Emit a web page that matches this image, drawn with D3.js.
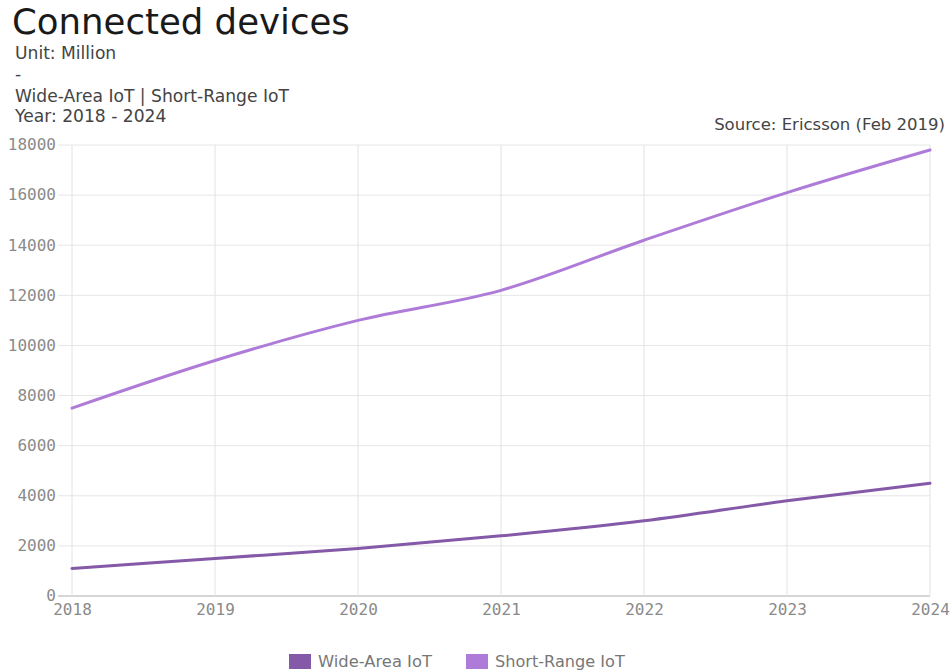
<!DOCTYPE html>
<html><head><meta charset="utf-8">
<script src="https://cdn.jsdelivr.net/npm/d3@7"></script>
<style>
body{margin:0;background:#fff;}
svg{display:block;}
</style></head>
<body>
<svg id="chart" width="952" height="671"></svg>
<script>
const years = [2018, 2019, 2020, 2021, 2022, 2023, 2024];
const wideArea = [1100, 1500, 1900, 2400, 3000, 3800, 4500];
const shortRange = [7500, 9400, 11000, 12200, 14200, 16100, 17800];
const yTicks = [0, 2000, 4000, 6000, 8000, 10000, 12000, 14000, 16000, 18000];
const seriesNames = ["Wide-Area IoT", "Short-Range IoT"];
const seriesColors = ["#8459a8", "#ae7cd8"];

const svg = d3.select("#chart");
const sans = "'DejaVu Sans', Verdana, sans-serif";
const mono = "'DejaVu Sans Mono', 'Liberation Mono', monospace";

function fit(sel, target) {
  const fs = parseFloat(sel.attr("font-size"));
  const w = sel.node().getComputedTextLength();
  const nfs = fs * target / w;
  sel.attr("font-size", nfs);
  return nfs;
}

const x = d3.scaleLinear().domain([2018, 2024]).range([72, 930]);
const y = d3.scaleLinear().domain([0, 18000]).range([596, 145]);

// titles
const title = svg.append("text").attr("x", 12).attr("y", 34).attr("font-family", sans)
  .attr("font-size", 32).attr("fill", "#1a1a1a").text("Connected devices");
fit(title, 338);
const subs = ["Unit: Million", "-", "Wide-Area IoT | Short-Range IoT", "Year: 2018 - 2024"];
const subY = [59, 80, 102, 122];
const subSel = subs.map((s, i) => svg.append("text").attr("x", 15).attr("y", subY[i])
  .attr("font-family", sans).attr("font-size", 14).attr("fill", "#444").text(s));
const sfs = fit(subSel[2], 274);
subSel.forEach(s => s.attr("font-size", sfs));
const src = svg.append("text").attr("x", 945).attr("y", 130).attr("text-anchor", "end")
  .attr("font-family", sans).attr("font-size", 14).attr("fill", "#444").text("Source: Ericsson (Feb 2019)");
fit(src, 231);

// grid
const g = svg.append("g");
g.selectAll(".hg").data(yTicks).join("line")
  .attr("x1", 58).attr("x2", 930).attr("y1", d => y(d)).attr("y2", d => y(d))
  .attr("stroke", d => d === 0 ? "#c8c8c8" : "#e6e6e6").attr("stroke-width", d => d === 0 ? 1.5 : 1);
g.selectAll(".vg").data(years).join("line")
  .attr("x1", d => x(d)).attr("x2", d => x(d)).attr("y1", 145).attr("y2", 596)
  .attr("stroke", "#e2e2e2").attr("stroke-width", 1);

// axes labels
const yAxis = d3.axisLeft(y).tickValues(yTicks).tickSize(0).tickPadding(0).tickFormat(d3.format("d"));
const ya = svg.append("g").attr("transform", "translate(56,0)").call(yAxis);
ya.select(".domain").remove();
ya.selectAll("text").attr("font-family", mono).attr("font-size", 16).attr("fill", "#8a8a8a").attr("dy", "0.3em");

const xAxis = d3.axisBottom(x).tickValues(years).tickSize(0).tickPadding(0).tickFormat(d3.format("d"));
const xa = svg.append("g").attr("transform", "translate(0,604)").call(xAxis);
xa.select(".domain").remove();
xa.selectAll("text").attr("font-family", mono).attr("font-size", 16).attr("fill", "#8a8a8a");

// lines
const line = d3.line().x((d, i) => x(years[i])).y(d => y(d)).curve(d3.curveMonotoneX);
[wideArea, shortRange].forEach((s, i) => {
  svg.append("path").datum(s).attr("d", line).attr("fill", "none")
    .attr("stroke", seriesColors[i]).attr("stroke-width", 3).attr("stroke-linecap", "round");
});

// legend
const legX = [289, 466];
const legW = [114, 130];
seriesNames.forEach((n, i) => {
  svg.append("rect").attr("x", legX[i]).attr("y", 654).attr("width", 22).attr("height", 15).attr("fill", seriesColors[i]);
  const t = svg.append("text").attr("x", legX[i] + 29).attr("y", 667).attr("font-family", sans)
    .attr("font-size", 14).attr("fill", "#777").text(n);
  fit(t, legW[i]);
});
</script>
</body></html>
